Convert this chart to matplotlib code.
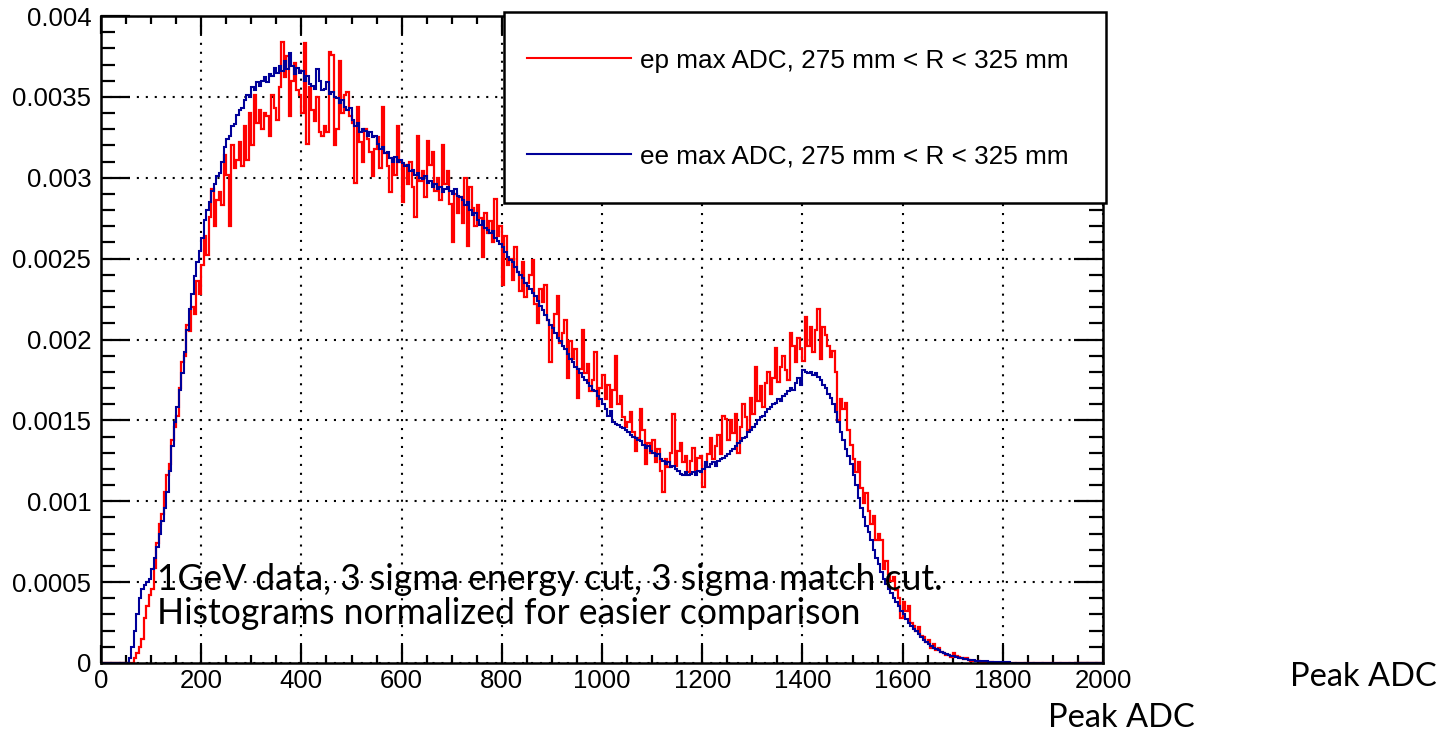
import numpy as np
import matplotlib
matplotlib.use("Agg")
import matplotlib.pyplot as plt
from matplotlib.ticker import MultipleLocator, FuncFormatter
from matplotlib.patches import Rectangle

# Peak ADC binning: 400 bins of 5 ADC counts from 0 to 2000
bin_edges = np.linspace(0, 2000, 401)

# Normalised bin contents, listed in units of 1e-4 (20 bins = 100 ADC per row)
ep_max_adc = [
    0, 0, 0, 0, 0, 0, 0, 0, 0, 0, 0, 0, 0, 0.3, 0.6, 1.0, 1.5, 2.8, 3.5, 4.2,
    4.6, 5.9, 7.4, 8.6, 9.2, 10.6, 11.6, 12.3, 13.8, 14.6, 15.3, 17.0, 18.6, 19.0, 20.9, 20.5, 22.0, 21.6, 23.6, 22.8,
    24.6, 26.4, 25.2, 27.6, 29.3, 27.0, 28.6, 29.1, 28.3, 31.4, 30.2, 27.0, 32.0, 30.6, 31.1, 32.2, 30.7, 33.2, 31.1, 34.0,
    32.0, 35.1, 33.4, 34.2, 33.0, 34.0, 33.8, 32.6, 35.1, 34.3, 33.6, 35.6, 38.4, 36.2, 37.5, 33.8, 36.0, 37.1, 35.4, 35.1,
    34.0, 38.3, 32.1, 35.6, 34.2, 33.5, 35.0, 32.8, 32.6, 33.2, 32.8, 37.8, 37.6, 32.0, 33.0, 37.2, 34.0, 35.1, 35.3, 33.8,
    33.4, 29.7, 34.4, 32.2, 31.0, 33.0, 32.4, 31.6, 30.1, 31.8, 32.5, 30.6, 34.4, 31.5, 30.7, 29.1, 31.2, 30.2, 33.2, 31.0,
    28.5, 30.8, 29.6, 31.0, 29.4, 27.6, 32.6, 29.8, 30.4, 28.8, 32.3, 30.8, 31.6, 29.2, 30.0, 28.6, 32.0, 29.6, 30.4, 28.4,
    26.0, 29.0, 27.8, 28.8, 27.2, 30.0, 25.8, 29.4, 28.1, 27.0, 28.3, 27.5, 25.1, 27.8, 26.6, 27.3, 26.0, 28.7, 26.4, 27.0,
    23.4, 26.4, 24.6, 25.0, 23.7, 25.7, 24.2, 23.0, 24.8, 22.6, 23.5, 24.0, 24.9, 22.2, 21.0, 23.1, 22.3, 23.4, 21.2, 18.6,
    20.8, 21.6, 22.7, 19.8, 20.4, 21.2, 17.6, 19.9, 18.8, 19.4, 16.4, 18.2, 20.6, 17.9, 18.5, 16.8, 17.5, 19.2, 15.9, 17.0,
    17.8, 16.3, 17.2, 15.8, 16.9, 19.0, 16.0, 16.5, 15.2, 14.6, 14.9, 15.5, 14.3, 13.1, 13.9, 15.7, 14.4, 12.3, 13.6, 13.0,
    13.8, 12.4, 13.2, 11.9, 10.6, 12.6, 12.1, 13.0, 15.4, 12.2, 13.1, 13.6, 12.4, 12.8, 11.8, 12.5, 13.3, 11.9, 12.7, 12.8,
    10.9, 12.2, 12.9, 13.9, 12.6, 13.4, 14.1, 12.9, 15.3, 15.1, 13.8, 15.0, 14.2, 15.4, 13.0, 14.6, 16.0, 15.2, 14.4, 16.4,
    15.4, 18.3, 16.2, 17.1, 15.8, 17.3, 18.0, 16.6, 17.6, 19.5, 17.4, 18.3, 19.0, 18.1, 17.5, 20.4, 19.6, 18.6, 20.1, 19.4,
    18.7, 21.4, 19.6, 20.8, 19.2, 20.6, 21.9, 18.8, 20.8, 20.3, 19.6, 18.9, 19.3, 18.0, 15.0, 16.3, 15.7, 16.1, 14.4, 13.5,
    12.6, 11.8, 12.4, 10.8, 9.9, 10.5, 9.4, 8.6, 9.1, 7.6, 8.0, 7.6, 5.8, 6.3, 5.5, 5.1, 5.3, 4.5, 4.0, 2.8,
    3.8, 3.2, 3.5, 2.5, 2.3, 2.0, 2.2, 1.7, 1.6, 1.3, 1.4, 0.9, 1.2, 0.8, 0.9, 0.7, 0.6, 0.5, 0.5, 0.4,
    0.6, 0.45, 0.35, 0.3, 0.25, 0.3, 0.2, 0.15, 0.15, 0.1, 0.12, 0.08, 0.06, 0.05, 0.05, 0.04, 0.03, 0.03, 0.02, 0.02,
    0.02, 0.01, 0.02, 0.01, 0.01, 0, 0, 0.02, 0.01, 0, 0, 0, 0, 0, 0, 0, 0, 0, 0, 0,
    0, 0, 0, 0, 0, 0, 0, 0, 0, 0, 0, 0, 0, 0, 0, 0, 0, 0, 0, 0,
]

ee_max_adc = [
    0, 0, 0, 0, 0, 0, 0, 0, 0, 0, 0, 0.3, 1.0, 2.0, 3.0, 4.0, 4.6, 4.8, 5.0, 5.2,
    5.8, 6.5, 7.2, 8.0, 8.8, 9.6, 10.6, 11.9, 13.4, 14.9, 15.8, 16.9, 17.9, 19.2, 20.6, 21.9, 22.8, 23.9, 24.8, 25.5,
    26.3, 27.4, 28.0, 28.5, 29.2, 29.6, 30.1, 30.3, 31.0, 31.9, 32.4, 32.6, 33.2, 33.3, 33.9, 34.2, 34.3, 34.8, 35.1, 35.0,
    35.6, 35.4, 35.9, 35.7, 36.0, 36.2, 35.9, 36.4, 36.3, 36.8, 36.5, 36.9, 36.6, 37.2, 36.7, 37.7, 36.9, 36.4, 36.8, 36.5,
    36.6, 36.0, 36.3, 35.8, 35.7, 35.5, 36.7, 36.0, 35.4, 35.5, 35.9, 35.2, 35.3, 35.0, 34.9, 34.6, 34.8, 34.4, 34.2, 34.3,
    33.6, 33.2, 33.4, 32.8, 33.0, 32.9, 32.6, 32.8, 32.5, 32.6, 32.1, 31.8, 31.9, 31.5, 31.6, 31.2, 31.0, 31.3, 31.0, 31.1,
    30.9, 30.7, 30.8, 30.4, 30.5, 30.2, 30.3, 30.0, 29.9, 30.1, 29.7, 29.8, 29.4, 29.6, 29.3, 29.4, 29.1, 29.3, 29.4, 29.2,
    29.0, 29.3, 28.9, 28.8, 28.6, 28.3, 28.5, 28.0, 27.7, 27.8, 27.4, 27.1, 27.3, 26.9, 26.8, 26.6, 26.7, 26.3, 26.1, 25.9,
    25.7, 25.4, 25.1, 24.9, 24.8, 24.5, 24.2, 24.0, 23.8, 23.5, 23.3, 23.1, 22.9, 22.7, 22.4, 22.1, 21.8, 21.5, 21.2, 20.9,
    20.7, 20.4, 20.1, 19.9, 19.6, 19.4, 19.1, 18.8, 18.6, 18.3, 18.2, 17.9, 17.7, 17.5, 17.3, 17.1, 16.9, 16.8, 16.5, 16.3,
    16.0, 15.7, 15.3, 15.6, 14.9, 14.8, 14.7, 14.6, 14.5, 14.4, 14.3, 14.1, 14.0, 13.9, 13.8, 13.7, 13.5, 13.3, 13.4, 13.1,
    13.0, 12.8, 12.9, 12.6, 12.5, 12.3, 12.4, 12.1, 12.2, 12.0, 11.9, 11.7, 11.6, 11.8, 11.6, 11.7, 11.8, 11.6, 11.9, 11.8,
    12.0, 12.4, 12.1, 12.3, 12.4, 12.2, 12.5, 12.6, 12.7, 12.8, 12.9, 13.1, 13.2, 13.4, 13.6, 13.7, 13.9, 14.0, 14.3, 14.4,
    14.6, 14.8, 15.0, 15.2, 15.3, 15.5, 15.7, 15.8, 16.0, 16.1, 16.3, 16.2, 16.5, 16.6, 16.8, 17.0, 16.9, 17.3, 17.6, 17.2,
    18.1, 18.0, 17.9, 18.0, 17.8, 17.9, 17.7, 17.5, 17.2, 17.0, 16.6, 16.4, 16.0, 15.5, 14.9, 14.3, 13.8, 13.2, 12.8, 12.3,
    11.6, 11.0, 10.2, 9.6, 9.0, 8.5, 8.1, 7.6, 7.0, 6.5, 6.1, 5.6, 5.2, 4.9, 4.6, 4.3, 4.0, 3.8, 3.5, 3.2,
    3.0, 2.7, 2.5, 2.3, 2.1, 1.95, 1.8, 1.6, 1.45, 1.3, 1.2, 1.05, 0.95, 0.85, 0.8, 0.7, 0.62, 0.55, 0.5, 0.45,
    0.42, 0.38, 0.34, 0.3, 0.27, 0.24, 0.21, 0.19, 0.17, 0.15, 0.13, 0.12, 0.11, 0.1, 0.09, 0.08, 0.07, 0.06, 0.06, 0.05,
    0.05, 0.04, 0.04, 0.03, 0.03, 0.03, 0.02, 0.02, 0.02, 0.02, 0.01, 0.01, 0.01, 0.01, 0.01, 0.01, 0.01, 0, 0, 0,
    0, 0, 0, 0, 0, 0, 0, 0, 0, 0, 0, 0, 0, 0, 0, 0, 0, 0, 0, 0,
]

ep_label = "ep max ADC, 275 mm < R < 325 mm"
ee_label = "ee max ADC, 275 mm < R < 325 mm"
y_tick_values = [0, 0.0005, 0.001, 0.0015, 0.002, 0.0025, 0.003, 0.0035, 0.004]

ROOT_FONT = ["Liberation Sans", "DejaVu Sans"]
NOTE_FONT = ["Lato", "DejaVu Sans"]

fig = plt.figure(figsize=(14.47, 7.35), dpi=100)
ax = fig.add_axes([101 / 1447, 72 / 735, 1002 / 1447, 647 / 735])

ep_vals = np.array(ep_max_adc) * 1e-4
ee_vals = np.array(ee_max_adc) * 1e-4

ax.stairs(ep_vals, bin_edges, color="#ff0000", linewidth=1.6, label=ep_label, zorder=3)
ax.stairs(ee_vals, bin_edges, color="#000099", linewidth=1.5, label=ee_label, zorder=4)

ax.set_xlim(0, 2000)
ax.set_ylim(0, 0.004)

ax.xaxis.set_major_locator(MultipleLocator(200))
ax.xaxis.set_minor_locator(MultipleLocator(50))
ax.set_yticks(y_tick_values)
ax.yaxis.set_minor_locator(MultipleLocator(0.0001))
ax.yaxis.set_major_formatter(FuncFormatter(lambda v, _: "%g" % v))

ax.tick_params(which="both", direction="in", top=True, right=True, width=1.6, color="black")
ax.tick_params(axis="x", which="major", length=13, pad=4)
ax.tick_params(axis="x", which="minor", length=6)
ax.tick_params(axis="y", which="major", length=21, pad=7)
ax.tick_params(axis="y", which="minor", length=10)
for lab in ax.get_xticklabels() + ax.get_yticklabels():
    lab.set_fontfamily(ROOT_FONT)
    lab.set_fontsize(18.5)

for sp in ax.spines.values():
    sp.set_linewidth(1.8)
    sp.set_zorder(6)

ax.grid(which="major", color="black", linestyle=(0, (1, 3.3)), linewidth=1.5, zorder=1)

# Legend panel: white box with black border in the upper right of the frame
legend_box = Rectangle((0.4022, 0.711), 0.601, 0.295, transform=ax.transAxes,
                       facecolor="white", edgecolor="black", linewidth=1.8,
                       clip_on=False, zorder=9)
ax.add_patch(legend_box)

leg = ax.legend(
    loc="center left",
    bbox_to_anchor=(0.4251, 0.857),
    frameon=False,
    borderaxespad=0,
    borderpad=0,
    labelspacing=2.75,
    handlelength=4.0,
    handletextpad=0.32,
    prop={"family": ROOT_FONT, "size": 18.8},
)
leg.set_zorder(10)
for ln in leg.get_lines():
    ln.set_linewidth(1.5)

fig.text(157 / 1447, 1 - 580 / 735, "1GeV data, 3 sigma energy cut, 3 sigma match cut.",
         fontfamily=NOTE_FONT, fontsize=25.6, ha="left", va="center")
fig.text(157 / 1447, 1 - 613 / 735, "Histograms normalized for easier comparison",
         fontfamily=NOTE_FONT, fontsize=25.6, ha="left", va="center")
fig.text(1290 / 1447, 1 - 677 / 735, "Peak ADC",
         fontfamily=NOTE_FONT, fontsize=23.5, ha="left", va="center")
fig.text(1048 / 1447, 1 - 718 / 735, "Peak ADC",
         fontfamily=NOTE_FONT, fontsize=23.5, ha="left", va="center")

fig.savefig("out.png", dpi=100, facecolor="white")
